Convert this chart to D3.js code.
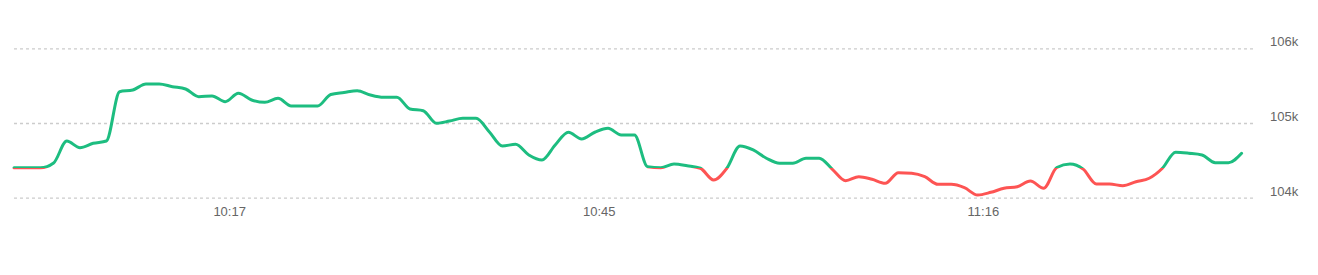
<!DOCTYPE html>
<html><head><meta charset="utf-8">
<script src="https://cdn.jsdelivr.net/npm/d3@7"></script>
<style>html,body{margin:0;padding:0;background:#fff;}svg{display:block;}</style>
</head><body>
<svg id="chart" width="1318" height="275"></svg>
<script>
// Price per minute-sample (94 points)
const prices = [
  104400, 104400, 104400, 104465, 104759, 104670, 104728, 104759, 105419, 105442,
  105522, 105522, 105486, 105455, 105352, 105362, 105285, 105398, 105308, 105277,
  105331, 105228, 105228, 105228, 105382, 105409, 105433, 105375, 105344, 105344,
  105188, 105165, 104996, 105027, 105063, 105063, 104884, 104692, 104715, 104572,
  104505, 104706, 104876, 104786, 104876, 104929, 104840, 104840, 104415, 104402,
  104451, 104428, 104394, 104237, 104394, 104692, 104639, 104528, 104461, 104461,
  104528, 104528, 104380, 104228, 104281, 104246, 104193, 104335, 104327, 104281,
  104179, 104179, 104134, 104036, 104072, 104126, 104147, 104224, 104126, 104404,
  104451, 104382, 104183, 104183, 104161, 104214, 104260, 104394, 104608, 104595,
  104572, 104469, 104469, 104595
];
const baseline = prices[0];
const yTicks = [104000, 105000, 106000];
const yTickLabels = ["104k", "105k", "106k"];
const xTickLabels = ["10:17", "10:45", "11:16"];
const xTickIndex = [16.3, 44.3, 73.4];

const svg = d3.select("#chart");
const x = d3.scaleLinear().domain([0, prices.length - 1]).range([14, 1241.6]);
const y = d3.scaleLinear().domain([104000, 106000]).range([197.7, 48.3]);

// gridlines
const yAxis = d3.axisRight(y).tickValues(yTicks)
  .tickFormat((d, i) => yTickLabels[i]).tickSize(1253 - 14).tickPadding(17);
const gy = svg.append("g").attr("transform", "translate(14,0)").call(yAxis);
gy.select(".domain").remove();
gy.selectAll(".tick line").attr("stroke", "#cccccc").attr("stroke-width", 1.3)
  .attr("stroke-dasharray", "3,3");
gy.selectAll(".tick text").attr("fill", "#666").attr("font-size", 13)
  .attr("font-family", "Liberation Sans, Arial, sans-serif").attr("dy", "-0.2em");

// x axis labels
const xAxis = d3.axisBottom(x).tickValues(xTickIndex)
  .tickFormat((d, i) => xTickLabels[i]).tickSize(0).tickPadding(0);
const gx = svg.append("g").attr("transform", "translate(0,207)").call(xAxis);
gx.select(".domain").remove();
gx.selectAll(".tick text").attr("fill", "#666").attr("font-size", 13)
  .attr("font-family", "Liberation Sans, Arial, sans-serif");

// gradient split at baseline
const by = y(baseline);
const grad = svg.append("defs").append("linearGradient")
  .attr("id", "split").attr("gradientUnits", "userSpaceOnUse")
  .attr("x1", 0).attr("x2", 0).attr("y1", 0).attr("y2", 275);
const f = (by + 0.3) / 275;
grad.append("stop").attr("offset", f).attr("stop-color", "#1dbd80");
grad.append("stop").attr("offset", f).attr("stop-color", "#fd5453");

const line = d3.line().x((d, i) => x(i)).y(d => y(d)).curve(d3.curveMonotoneX);
svg.append("path").datum(prices).attr("d", line)
  .attr("fill", "none").attr("stroke", "url(#split)").attr("stroke-width", 3)
  .attr("stroke-linejoin", "round").attr("stroke-linecap", "round");
</script>
</body></html>
